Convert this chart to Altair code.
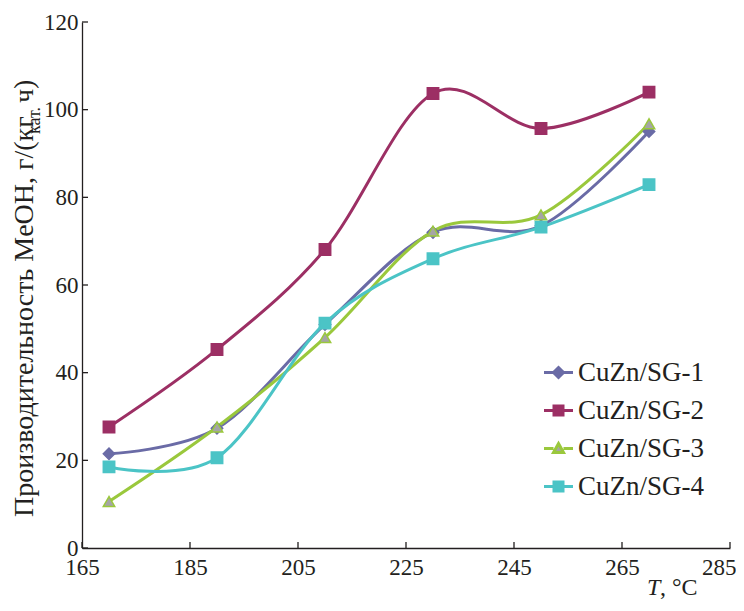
import altair as alt
import pandas as pd

# ---- data ----
T = [170, 190, 210, 230, 250, 270]
SERIES = ["CuZn/SG-1", "CuZn/SG-2", "CuZn/SG-3", "CuZn/SG-4"]
SG1 = [21.5, 27.3, 51.0, 72.0, 73.5, 95.0]
SG2 = [27.6, 45.3, 68.1, 103.7, 95.7, 104.0]
SG3 = [10.6, 27.6, 48.0, 72.3, 76.0, 96.8]
SG4 = [18.5, 20.6, 51.3, 66.0, 73.2, 82.9]
X_TICKS = [165, 185, 205, 225, 245, 265, 285]
Y_TICKS = [0, 20, 40, 60, 80, 100, 120]
Y_TITLE = ["Производительность MeOH, г/(кг", "кат.", " ч)"]
X_TITLE = ["T", ", °C"]

# ---- styles ----
LINE_COLORS = ["#6a6ba6", "#9c2f64", "#9ac83c", "#4bc4c6"]
FILL_COLORS = ["#6a6ba6", "#9c2f64", "#a5a5a5", "#4bc4c6"]
SHAPES = ["diamond", "square", "triangle-up", "square"]
LEG_SHAPES = [
    "M-1.45,0H-0.5M0.5,0H1.45M0,-0.5L0.5,0L0,0.5L-0.5,0Z",
    "M-1.45,0H-0.45M0.45,0H1.45M-0.45,-0.45H0.45V0.45H-0.45Z",
    "M-1.45,0H-0.5M0.5,0H1.45M0,-0.5L0.5,0.4L-0.5,0.4Z",
    "M-1.45,0H-0.45M0.45,0H1.45M-0.45,-0.45H0.45V0.45H-0.45Z",
]
FONT = "Liberation Serif"
INK = "#231f20"
W, H = 648, 526

rows = []
for name, vals in zip(SERIES, [SG1, SG2, SG3, SG4]):
    for t, v in zip(T, vals):
        rows.append({"T": t, "v": v, "s": name})
df = pd.DataFrame(rows)

last_x = X_TICKS[-1]
xs = alt.Scale(domain=[165, 285], nice=False, zero=False)
ys = alt.Scale(domain=[0, 120], nice=False)
xaxis = alt.Axis(values=X_TICKS, ticks=False, grid=False, title=None,
                 labelFont=FONT, labelFontSize=23, labelColor=INK,
                 labelPadding=8, labelFlush=False, labelOverlap=False,
                 labelAlign=alt.expr(f"datum.value == {last_x} ? 'right' : 'center'"),
                 labelOffset=alt.expr(f"datum.value == {last_x} ? 6 : 0"),
                 domainColor=INK, domainWidth=1.3)
yaxis = alt.Axis(values=Y_TICKS, ticks=False, grid=False, title=None,
                 labelFont=FONT, labelFontSize=23, labelColor=INK,
                 labelPadding=4, labelOverlap=False,
                 domainColor=INK, domainWidth=1.3)
X = alt.X("T:Q", scale=xs, axis=xaxis)
Y = alt.Y("v:Q", scale=ys, axis=yaxis)
sdom = alt.Scale(domain=SERIES, range=LINE_COLORS)

lines = alt.Chart(df).mark_line(interpolate="cardinal", strokeWidth=3).encode(
    x=X, y=Y, color=alt.Color("s:N", scale=sdom, legend=None),
    detail="s:N",
)

points = alt.Chart(df).mark_point(filled=True, size=130, strokeWidth=1.5, opacity=1).encode(
    x=X, y=Y,
    shape=alt.Shape("s:N", scale=alt.Scale(domain=SERIES, range=SHAPES), legend=None),
    fill=alt.Fill("s:N", scale=alt.Scale(domain=SERIES, range=FILL_COLORS), legend=None),
    stroke=alt.Stroke("s:N", scale=alt.Scale(domain=SERIES, range=LINE_COLORS), legend=None),
)

leg = alt.Legend(title=None, orient="none", legendX=463, legendY=337,
                 symbolSize=400, symbolStrokeWidth=3, symbolOpacity=1,
                 labelFont=FONT, labelFontSize=27, labelColor=INK,
                 labelOffset=6, rowPadding=10, labelLimit=300)
legend_layer = alt.Chart(df).mark_point(filled=True, opacity=0).encode(
    x=X, y=Y,
    shape=alt.Shape("s:N", scale=alt.Scale(domain=SERIES, range=LEG_SHAPES), legend=leg),
    fill=alt.Fill("s:N", scale=alt.Scale(domain=SERIES, range=FILL_COLORS), legend=leg),
    stroke=alt.Stroke("s:N", scale=alt.Scale(domain=SERIES, range=LINE_COLORS), legend=leg),
)

yt = alt.Chart(pd.DataFrame({"v": Y_TICKS})).mark_rule(color=INK, strokeWidth=1.3).encode(
    y=Y, x=alt.value(0), x2=alt.value(6))
xt = alt.Chart(pd.DataFrame({"T": X_TICKS})).mark_rule(color=INK, strokeWidth=1.3).encode(
    x=X, y=alt.value(H), y2=alt.value(H - 6))

def txt(s, x, y, size, angle=0, italic=False):
    return alt.Chart(pd.DataFrame({"t": [s]})).mark_text(
        font=FONT, fontSize=size, color=INK, align="left", baseline="alphabetic",
        angle=angle, fontStyle="italic" if italic else "normal",
    ).encode(text="t:N", x=alt.value(x), y=alt.value(y))

t1 = txt(Y_TITLE[0], -49, 495, 28, angle=270)
t2 = txt(Y_TITLE[1], -42, 112, 18, angle=270)
t3 = txt(Y_TITLE[2], -49, 81, 28, angle=270)
x1 = txt(X_TITLE[0], 565, 573, 24, italic=True)
x2 = txt(X_TITLE[1], 578, 573, 24)

chart = alt.layer(lines, points, legend_layer, yt, xt, t1, t2, t3, x1, x2).resolve_scale(
    shape="independent", fill="independent", stroke="independent"
).properties(
    width=W, height=H,
    autosize=alt.AutoSizeParams(type="none"),
    padding={"left": 74, "top": 14, "right": 6, "bottom": 52},
).configure_view(stroke=None)

chart.save("out.html", embed_options={"renderer": "svg", "actions": False})
